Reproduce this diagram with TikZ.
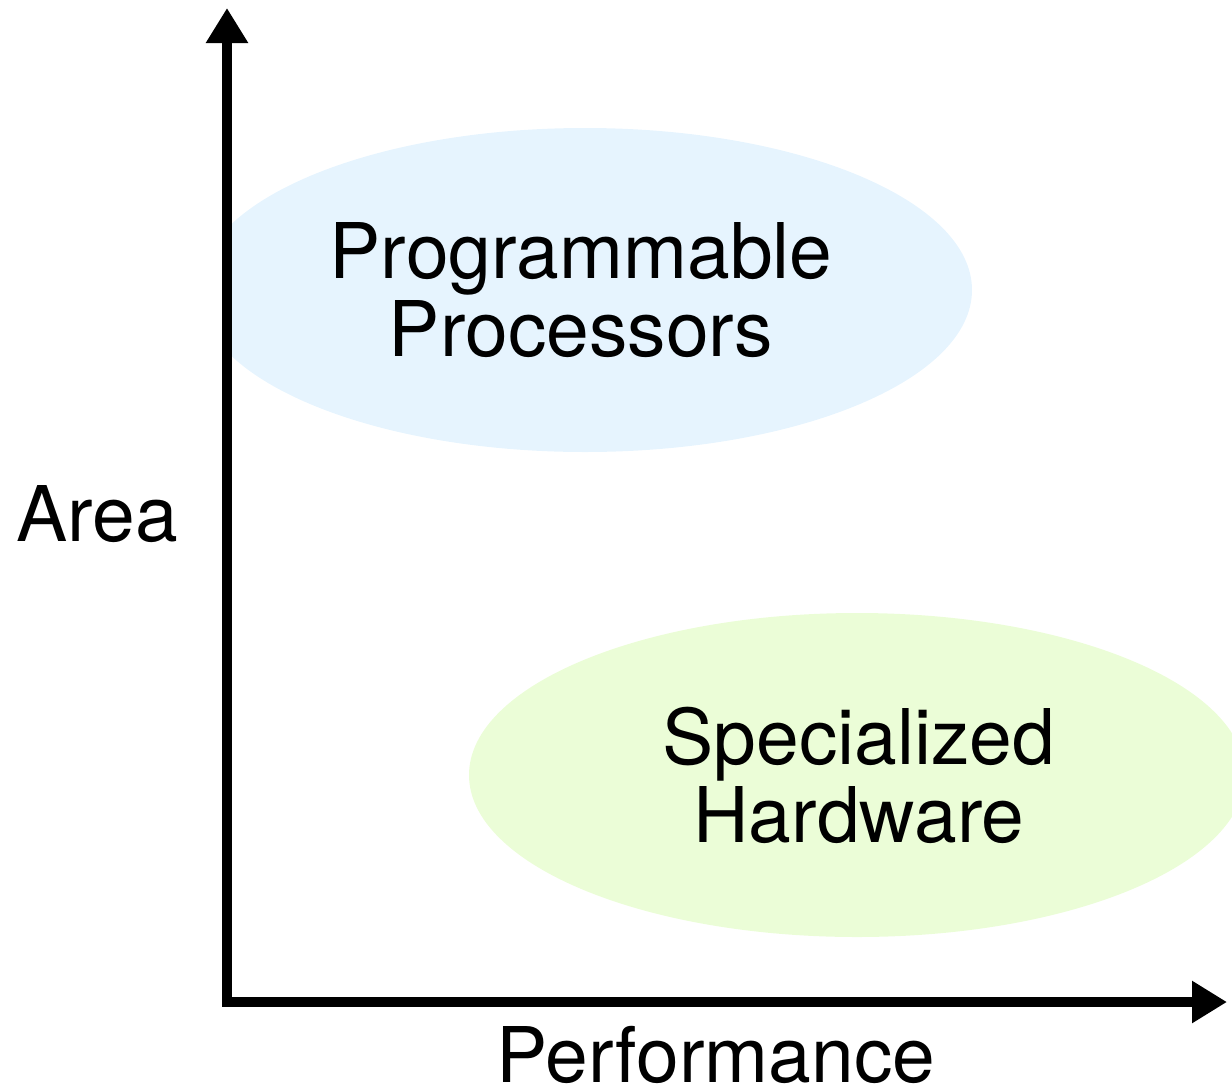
\documentclass[tikz,border=0pt]{standalone}
\usepackage{fontspec}
\setmainfont{TeX Gyre Heros}
\usetikzlibrary{arrows.meta}
\definecolor{progblue}{RGB}{230,244,254}
\definecolor{hwgreen}{RGB}{235,253,215}
\tikzset{
  axisline/.style={line width=5pt, line join=miter, {Triangle[length=17.5pt,width=20pt]}-{Triangle[length=17.5pt,width=20pt]}},
  biglabel/.style={font=\fontsize{38.4}{39}\selectfont, inner sep=0pt, align=center},
}
\begin{document}
\begin{tikzpicture}[x=0.5pt,y=-0.5pt]
\useasboundingbox (0,0) rectangle (1232,1088);
% regions
\begin{scope}
  \clip (227,0) rectangle (1232,1088);
  \fill[progblue] (585,290) ellipse [x radius=193.5pt, y radius=81pt];
  \fill[hwgreen] (857,775) ellipse [x radius=194pt, y radius=81pt];
\end{scope}
\node[biglabel] (prog) at (581,290) {Programmable\\Processors};
\node[biglabel] (hw) at (859,775) {Specialized\\Hardware};
% axes
\coordinate (Ytip) at (227,8);
\coordinate (O) at (227,1002);
\coordinate (Xtip) at (1227,1002);
\draw[axisline] (Ytip) -- (O) -- (Xtip);
\node[biglabel, anchor=base] (area) at (97,541.7) {Area};
\node[biglabel, anchor=base] (perf) at (716,1082) {Performance};
\end{tikzpicture}
\end{document}
